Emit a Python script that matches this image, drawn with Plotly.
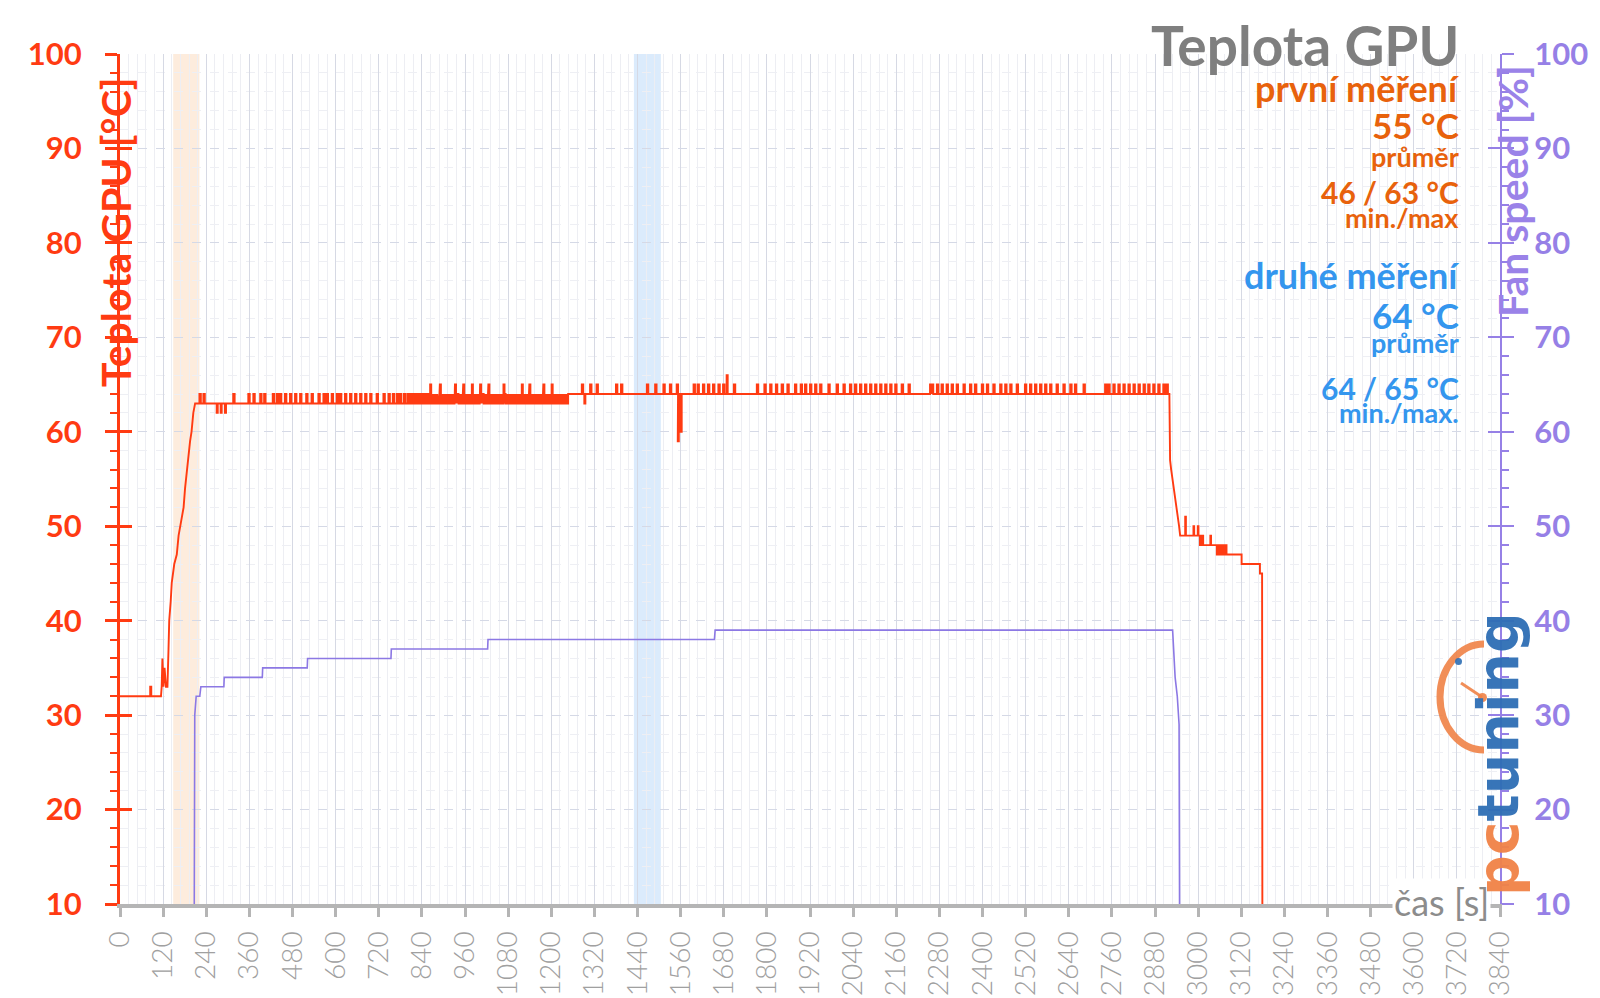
import plotly.graph_objects as go

# ---------------- data ----------------
# GPU temperature (°C) vs time (s)
idle_start, idle_end, idle_level = 0, 114, 32
idle_blips = [(84, 33, 3)]

rise_t = [116, 118, 121, 124, 128, 132, 135, 137, 141, 144, 151, 158, 163, 167, 172, 177, 181, 186, 190, 195, 199, 204, 209]
rise_v = [33, 36, 33, 35, 33, 33, 37, 40, 42, 44, 46, 47, 49, 50, 51, 52, 54, 56, 57, 59, 60, 62, 63]

seg63_start, seg63_end = 209, 800
seg63_up64 = [221, 232, 315, 357, 371, 390, 401, 425, 436, 445, 459, 473, 487, 501, 518, 533, 552, 566,
              575, 589, 603, 612, 626, 640, 654, 668, 682, 696, 714, 733, 747, 759, 770, 779, 790]
seg63_dn62 = [269, 280, 292]

dense_start, dense_end = 800, 1247
dense_up64 = [800, 804, 809, 813, 817, 822, 826, 830, 835, 839, 843, 848, 852, 857, 861, 866, 870, 874, 879,
              883, 888, 892, 896, 901, 905, 910, 914, 918, 923, 927, 931, 936, 940, 945, 949, 953, 958, 962,
              966, 971, 975, 980, 984, 988, 993, 997, 1001, 1006, 1010, 1015, 1019, 1023, 1028, 1032, 1036,
              1041, 1045, 1050, 1054, 1058, 1063, 1067, 1071, 1076, 1080, 1085, 1089, 1093, 1098, 1102, 1106,
              1111, 1115, 1120, 1124, 1128, 1133, 1137, 1141, 1146, 1150, 1155, 1159, 1163, 1168, 1172, 1176,
              1181, 1185, 1190, 1194, 1198, 1203, 1207, 1211, 1216, 1220, 1225, 1229, 1233, 1238, 1242]
dense_up65 = [863, 890, 932, 955, 979, 1002, 1025, 1067, 1118, 1139, 1178, 1201]

seg64_start, seg64_end = 1247, 2920
seg64_up65 = [1285, 1308, 1326, 1380, 1394, 1466, 1489, 1512, 1530, 1549, 1596, 1607, 1622, 1636, 1650,
              1665, 1678, 1708, 1772, 1793, 1809, 1825, 1841, 1857, 1878, 1894, 1906, 1920, 1934, 1948,
              1971, 1994, 2013, 2031, 2045, 2059, 2073, 2087, 2101, 2115, 2129, 2143, 2157, 2175, 2194,
              2254, 2259, 2273, 2286, 2300, 2314, 2328, 2347, 2365, 2379, 2398, 2412, 2430, 2449, 2463,
              2477, 2495, 2518, 2532, 2546, 2560, 2574, 2588, 2606, 2625, 2644, 2657, 2681, 2741, 2750,
              2764, 2778, 2792, 2806, 2820, 2834, 2848, 2861, 2875, 2889, 2903, 2912]
seg64_up66 = [1688]
seg64_dips = [(1292, 63), (1552, 59), (1560, 60)]

drop_t = [2922, 2925, 2929, 2933, 2937, 2941, 2944, 2947, 2950]
drop_v = [57, 56, 55, 54, 53, 52, 51, 50, 49]

tail_levels = [(2950, 3005, 49), (3005, 3052, 48), (3052, 3121, 47), (3121, 3172, 46)]
tail_blips = {49: [(2964, 51), (2987, 50), (2999, 50)],
              48: [(3006, 49), (3009, 49), (3012, 49), (3034, 49)],
              47: [(3053, 48), (3057, 48), (3061, 48), (3065, 48), (3069, 48), (3073, 48), (3077, 48)],
              46: []}
end_t = [3172, 3178, 3179]
end_v = [45, 45, 0]

# Fan speed (%) vs time (s)
fan_t = [0, 206, 208, 212, 222, 225, 289, 290, 396, 397, 521, 522, 754, 755, 1023, 1024, 1654, 1656,
         2929, 2936, 2942, 2947, 2949]
fan_v = [0, 0, 30, 32, 32, 33, 33, 34, 34, 35, 35, 36, 36, 37, 37, 38, 38, 39,
         39, 34, 32, 29, 0]

# highlighted measurement windows (s)
band_first = (148, 221)
band_second = (1430, 1505)

x_ticks = list(range(0, 3841, 120))

# ---------------- build the temperature line ----------------
tx, ty = [], []


def add_segment(t0, t1, base, events):
    tx.append(t0); ty.append(base)
    for p, lvl, w in sorted(events):
        tx.extend([p, p, p + w, p + w]); ty.extend([base, lvl, lvl, base])
    tx.append(t1); ty.append(base)


add_segment(idle_start, idle_end, idle_level, idle_blips)
tx.extend(rise_t); ty.extend(rise_v)
add_segment(seg63_start, seg63_end, 63,
            [(p, 64, 4) for p in seg63_up64] + [(p, 62, 3) for p in seg63_dn62])
add_segment(dense_start, dense_end, 63,
            [(p, 64, 2) for p in dense_up64] + [(p, 65, 3) for p in dense_up65])
add_segment(seg64_start, seg64_end, 64,
            [(p, 65, 4) for p in seg64_up65] + [(p, 66, 3) for p in seg64_up66] +
            [(p, v, 3) for p, v in seg64_dips])
tx.extend(drop_t); ty.extend(drop_v)
for t0, t1, lvl in tail_levels:
    add_segment(t0, t1, lvl, [(p, v, 2) for p, v in tail_blips[lvl]])
tx.extend(end_t); ty.extend(end_v)

RED = "#FF3B12"
PURPLE = "#8C78E4"
PURPLE_T = "#9680E6"
GRAY = "#A0A0A0"
ORANGE_T = "#E8620C"
BLUE_T = "#3496EE"

fig = go.Figure()
fig.add_trace(go.Scatter(x=fan_t, y=fan_v, mode="lines", yaxis="y2",
                         line=dict(color=PURPLE, width=1.6), hoverinfo="skip"))
fig.add_trace(go.Scatter(x=tx, y=ty, mode="lines",
                         line=dict(color=RED, width=1.9), hoverinfo="skip"))
# helper traces so the overlay tick axes render
fig.add_trace(go.Scatter(x=[None], y=[None], yaxis="y3", showlegend=False))
fig.add_trace(go.Scatter(x=[None], y=[None], yaxis="y4", showlegend=False))

L, R, T, B = 120, 1500, 54, 904


def px(x):
    return (x - L) / (R - L)


def py(y):
    return (B - y) / (B - T)


shapes = [
    dict(type="rect", xref="x", yref="paper", x0=band_first[0], x1=band_first[1], y0=0, y1=1,
         fillcolor="rgba(250,212,180,0.45)", line=dict(width=0), layer="below"),
    dict(type="rect", xref="x", yref="paper", x0=band_second[0], x1=band_second[1], y0=0, y1=1,
         fillcolor="rgba(190,218,250,0.55)", line=dict(width=0), layer="below"),
]

# pcTuning logo (arc + needle)
cx, cy, rx, ry, k = 1484, 697, 44, 53, 0.5523
arc = (f"M {px(cx)},{py(cy - ry)} "
       f"C {px(cx - k * rx)},{py(cy - ry)} {px(cx - rx)},{py(cy - k * ry)} {px(cx - rx)},{py(cy)} "
       f"C {px(cx - rx)},{py(cy + k * ry)} {px(cx - k * rx)},{py(cy + ry)} {px(cx)},{py(cy + ry)}")
shapes.append(dict(type="path", xref="paper", yref="paper", path=arc,
                   line=dict(color="rgba(240,130,70,0.9)", width=7)))
shapes.append(dict(type="line", xref="paper", yref="paper", x0=px(1461), y0=py(683), x1=px(1482), y1=py(697),
                   line=dict(color="rgba(240,130,70,0.9)", width=3)))
shapes.append(dict(type="circle", xref="paper", yref="paper", x0=px(1478), x1=px(1487), y0=py(693), y1=py(702),
                   fillcolor="rgba(240,130,70,0.9)", line=dict(width=0)))
shapes.append(dict(type="circle", xref="paper", yref="paper", x0=px(1455), x1=px(1462), y0=py(658), y1=py(665),
                   fillcolor="rgba(45,110,180,0.9)", line=dict(width=0)))

annotations = []


def txt(text, x, y, size, color, xanchor="right", bold=True, angle=0, bg=None, family="Lato"):
    a = dict(text=text, xref="paper", yref="paper", x=px(x), y=py(y), xanchor=xanchor, yanchor="middle",
             showarrow=False, textangle=angle,
             font=dict(family=family, size=size, color=color, weight=700 if bold else 400))
    if bg:
        a["bgcolor"] = bg
    annotations.append(a)


XR = 1461
txt("Teplota GPU", XR, 45, 55, "#7F7F7F")
txt("první měření", XR, 88, 36, ORANGE_T)
txt("55 °C", XR, 125, 35, ORANGE_T)
txt("průměr", XR, 156, 27, ORANGE_T)
txt("46 / 63 °C", XR, 192, 30, ORANGE_T)
txt("min./max", XR, 217, 27, ORANGE_T)
txt("druhé měření", XR, 275, 36, BLUE_T)
txt("64 °C", XR, 315, 35, BLUE_T)
txt("průměr", XR, 342, 27, BLUE_T)
txt("64 / 65 °C", XR, 388, 30, BLUE_T)
txt("min./max.", XR, 412, 27, BLUE_T)

txt("Teplota GPU [°C]", 115, 232, 41, RED, xanchor="center", angle=-90)
txt("Fan speed [%]", 1513, 191, 41, "#9A82E8", xanchor="center", angle=-90)
txt("čas [s]", 1491, 902, 36, "#8C8C8C", bold=False, bg="white")
txt('<span style="color:rgba(240,130,70,0.95)">pc</span><span style="color:rgba(45,110,180,0.95)">tuning</span>',
    1498, 754, 57, "#2D6EB4", xanchor="center", angle=-90, family="DejaVu Sans", bold=True)

yrange = [10, 100]
common_y = dict(range=yrange, tick0=10, dtick=10, zeroline=False, fixedrange=True, automargin=False)

fig.update_layout(
    width=1600, height=998,
    margin=dict(l=L, r=1600 - R, t=T, b=998 - B, pad=0, autoexpand=False),
    paper_bgcolor="white", plot_bgcolor="white",
    showlegend=False,
    shapes=shapes, annotations=annotations,
    xaxis=dict(range=[0, 3840], tickmode="array", tickvals=x_ticks, ticktext=[str(v) for v in x_ticks],
               tickangle=-90, tickfont=dict(family="Lato", size=28, color=GRAY, weight=300),
               showline=True, linecolor="#B5B5B5", linewidth=4, automargin=False,
               ticks="outside", ticklen=9, tickwidth=3, tickcolor="#B5B5B5",
               showgrid=True, gridcolor="#D6D9E4", gridwidth=1.4,
               minor=dict(dtick=24, tick0=0, showgrid=True, gridcolor="#EDEEF3", gridwidth=1),
               zeroline=False, ticklabelstandoff=3),
    yaxis=dict(**common_y, side="left",
               showline=True, linecolor=RED, linewidth=3,
               ticks="outside", ticklen=12, tickwidth=3, tickcolor=RED,
               tickfont=dict(family="Lato", size=31, color=RED, weight=700),
               ticklabelstandoff=17,
               showgrid=True, gridcolor="#D5D9E6", gridwidth=1.3, griddash="dash",
               minor=dict(dtick=2, tick0=10, ticks="outside", ticklen=7, tickwidth=2, tickcolor=RED,
                          showgrid=True, gridcolor="#EEEFF4", gridwidth=1)),
    yaxis2=dict(**common_y, overlaying="y", side="right", anchor="x",
                showline=True, linecolor=PURPLE_T, linewidth=2,
                ticks="outside", ticklen=12, tickwidth=2, tickcolor=PURPLE_T,
                tickfont=dict(family="Lato", size=31, color=PURPLE_T, weight=700),
                ticklabelstandoff=14, showgrid=False,
                minor=dict(dtick=2, tick0=10, ticks="outside", ticklen=7, tickwidth=1.5, tickcolor=PURPLE_T,
                           showgrid=False)),
    yaxis3=dict(**common_y, overlaying="y", side="left", anchor="x",
                showline=False, showgrid=False, showticklabels=False,
                ticks="inside", ticklen=12, tickwidth=3, tickcolor=RED),
    yaxis4=dict(**common_y, overlaying="y", side="right", anchor="x",
                showline=False, showgrid=False, showticklabels=False,
                ticks="inside", ticklen=12, tickwidth=2, tickcolor=PURPLE_T),
)

fig.write_html("out.html")
